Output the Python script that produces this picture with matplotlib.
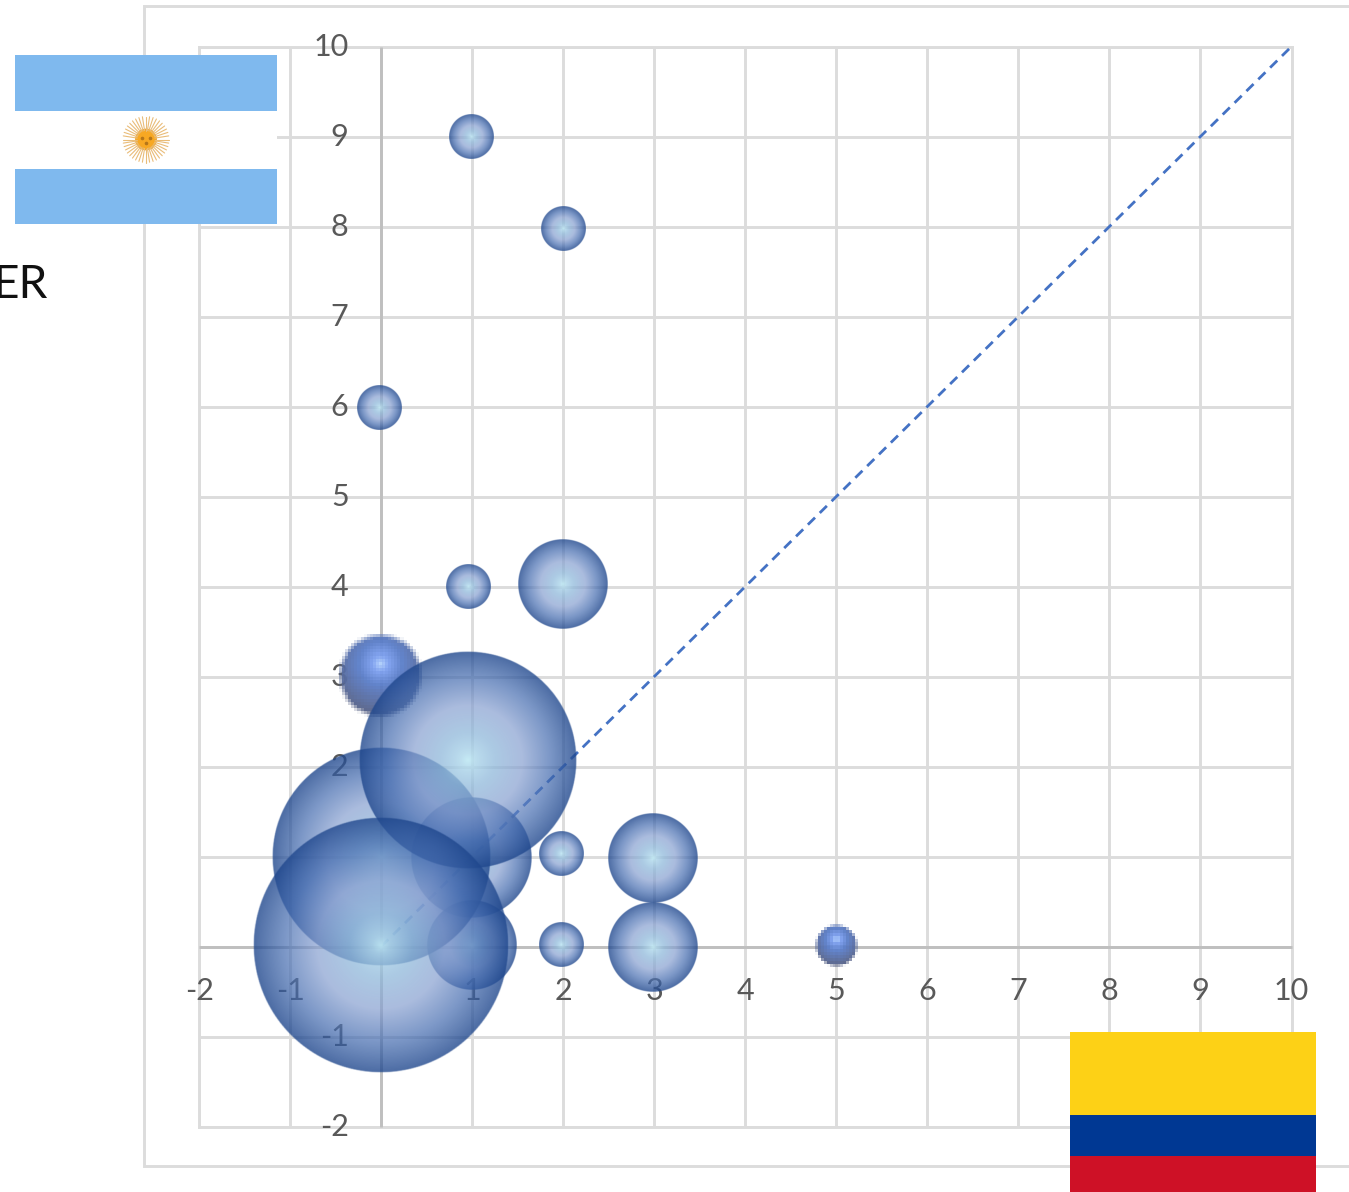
#!/usr/bin/python3
import numpy as np
import matplotlib
matplotlib.use("Agg")
import matplotlib.pyplot as plt
from matplotlib.patches import Rectangle, Circle
from matplotlib.transforms import ScaledTranslation

plt.rcParams['font.family'] = ['Lato', 'DejaVu Sans']

# bubbles, drawn in this order
bubble_x = [0.99, 1.0, 2.98, 2.98, 1.98, 1.98, 0.96, 2.0, -0.02, 2.0, 0.99, 0.0, 0.95, 0.0]
bubble_y = [0.98, 0.01, 0.98, -0.01, 1.03, 0.02, 4.0, 4.03, 5.99, 7.98, 9.0, 1.0, 2.07, 0.01]
bubble_size = [7.2, 4, 4, 4, 1, 1, 1, 4, 1, 1, 1, 23.8, 23.5, 32.6]

# the two shiny ones are pasted low res pictures in the original
shiny_x = [5.0, -0.01]
shiny_y = [0.01, 3.01]
shiny_size = [0.9, 3.4]

trend_x = [0, 10]
trend_y = [0, 10]

tick_values = [-2, -1, 0, 1, 2, 3, 4, 5, 6, 7, 8, 9, 10]
x_tick_labels = ['-2', '-1', '', '1', '2', '3', '4', '5', '6', '7', '8', '9', '10']
y_tick_labels = ['-2', '-1', '', '', '2', '3', '4', '5', '6', '7', '8', '9', '10']

W, H = 1349, 1192
PX_X = 91.0
PX_Y = 90.0
R_ONE = 22.4
GRID = '#DCDCDC'
AXIS = '#BFBFBF'
TEXT = '#595959'


def soft_bubble(n=401):
    v = np.linspace(-1, 1, n)
    xx, yy = np.meshgrid(v, v)
    r = np.sqrt(xx**2 + yy**2)
    stops = [0, 0.07, 0.25, 0.5, 0.75, 1.0]
    red = np.interp(r, stops, [192, 175, 144, 134, 69, 30])
    green = np.interp(r, stops, [234, 215, 185, 159, 108, 70])
    blue = np.interp(r, stops, [245, 235, 219, 208, 176, 140])
    alpha = np.interp(r, stops, [0.9, 0.84, 0.75, 0.7, 0.7, 0.8])
    alpha = alpha * np.clip((1 - r) * n / 2 / 1.5, 0, 1)
    return np.dstack([red / 255, green / 255, blue / 255, alpha])


def shiny_bubble(n):
    v = np.linspace(-1, 1, n)
    xx, yy = np.meshgrid(v, v)
    r = np.sqrt(xx**2 + yy**2)
    rh = np.sqrt(xx**2 + (yy + 0.3)**2)
    stops = [0, 0.2, 0.55, 1.3]
    red = np.interp(rh, stops, [180, 125, 90, 85])
    green = np.interp(rh, stops, [210, 160, 125, 95])
    blue = np.interp(rh, stops, [255, 240, 200, 130])
    alpha = np.clip((1.08 - r) * 7, 0, 1) * 0.95
    return np.dstack([red / 255, green / 255, blue / 255, alpha])


def draw_bubble(ax, x, y, size, img, interp):
    r = R_ONE * np.sqrt(size)
    rx, ry = r / PX_X, r / PX_Y
    ax.imshow(img, extent=(x - rx, x + rx, y - ry, y + ry), aspect='auto',
              interpolation=interp, zorder=3)


fig = plt.figure(figsize=(W / 100, H / 100), dpi=100, facecolor='white')

# frame behind the chart
bg = fig.add_axes([0, 0, 1, 1], zorder=0)
bg.set_xlim(0, W)
bg.set_ylim(H, 0)
bg.axis('off')
bg.add_patch(Rectangle((143.8, 5.7), 1300, 1160, facecolor='white', edgecolor=GRID, linewidth=2.1))

ax = fig.add_axes([199.2 / W, 1 - 1126.5 / H, (1291.5 - 199.2) / W, 1080 / H], zorder=1)
ax.patch.set_visible(False)
ax.set_axisbelow(True)
ax.grid(True, color=GRID, linewidth=2.1)
ax.set_xticks(tick_values)
ax.set_xticklabels(x_tick_labels)
ax.set_yticks(tick_values)
ax.set_yticklabels(y_tick_labels)
ax.tick_params(length=0, labelsize=22, labelcolor=TEXT)
ax.tick_params(axis='x', pad=22)
ax.tick_params(axis='y', pad=23.5)
for side in ['top', 'right']:
    ax.spines[side].set_visible(False)
for side in ['left', 'bottom']:
    ax.spines[side].set_position(('data', 0))
    ax.spines[side].set_color(AXIS)
    ax.spines[side].set_linewidth(2.1)
    ax.spines[side].set_capstyle('butt')

# outer grid lines would be half clipped otherwise, keep them under the labels
for v in [-2, 10]:
    ax.axvline(v, color=GRID, linewidth=2.1, clip_on=False, zorder=0.4)
    ax.axhline(v, color=GRID, linewidth=2.1, clip_on=False, zorder=0.4)

# y labels sit a bit high in the original
nudge = ScaledTranslation(0, 2 / 100, fig.dpi_scale_trans)
for lbl in ax.get_yticklabels():
    lbl.set_transform(lbl.get_transform() + nudge)

ax.plot(trend_x, trend_y, color='#4472C4', linestyle='--', linewidth=2.0, dashes=(3.6, 2.4), zorder=2)

soft = soft_bubble()
draw_bubble(ax, shiny_x[0], shiny_y[0], shiny_size[0], shiny_bubble(14), 'nearest')
draw_bubble(ax, shiny_x[1], shiny_y[1], shiny_size[1], shiny_bubble(27), 'nearest')
for x, y, s in zip(bubble_x, bubble_y, bubble_size):
    draw_bubble(ax, x, y, s, soft, 'bilinear')

ax.set_xlim(-2, 10)
ax.set_ylim(-2, 10)

# flags and the cut off word on top
top = fig.add_axes([0, 0, 1, 1], zorder=2)
top.patch.set_visible(False)
top.set_xlim(0, W)
top.set_ylim(H, 0)
top.axis('off')

top.add_patch(Rectangle((15, 55), 262, 169, facecolor='white', edgecolor='none'))
top.add_patch(Rectangle((15, 55), 262, 56, facecolor='#7FB9EE', edgecolor='none'))
top.add_patch(Rectangle((15, 168.5), 262, 55.5, facecolor='#7FB9EE', edgecolor='none'))
for a in np.linspace(0, 2 * np.pi, 40, endpoint=False):
    top.plot([146 + 9 * np.cos(a), 146 + 23 * np.cos(a)],
             [139.5 + 9 * np.sin(a), 139.5 + 23 * np.sin(a)],
             color='#E9BC78', linewidth=0.8, solid_capstyle='round')
top.add_patch(Circle((146, 139.5), 10.5, facecolor='#F7A823', edgecolor='#E89A20', linewidth=0.5))
top.plot([142, 150], [137.5, 137.5], linestyle='none', marker='o', markersize=1.6, color='#B5761A')
top.plot([146], [143], linestyle='none', marker='o', markersize=1.6, color='#B5761A')

top.add_patch(Rectangle((1070, 1032), 246, 82.5, facecolor='#FDD116', edgecolor='none'))
top.add_patch(Rectangle((1070, 1114.5), 246, 41, facecolor='#003893', edgecolor='none'))
top.add_patch(Rectangle((1070, 1155.5), 246, 36.5, facecolor='#CE1126', edgecolor='none'))

top.text(48, 298, 'ER', fontsize=33, color='#111111', ha='right', va='baseline')

fig.savefig('out.png', dpi=100)
